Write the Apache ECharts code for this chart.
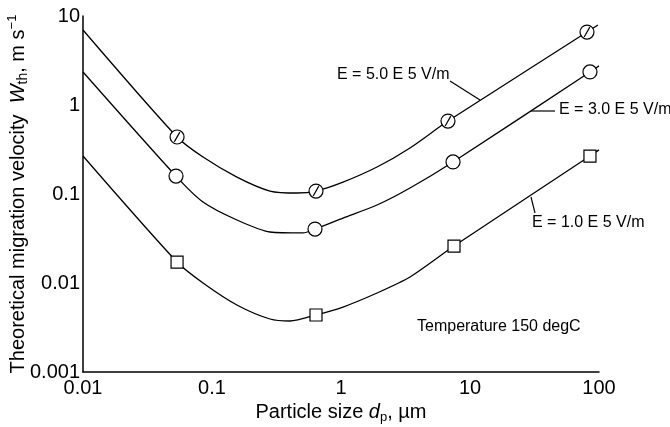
<!DOCTYPE html>
<html>
<head>
<meta charset="utf-8">
<script src="https://cdn.jsdelivr.net/npm/echarts@6/dist/echarts.min.js"></script>
<style>
  html, body { margin: 0; padding: 0; background: #fff; }
  #chart { width: 670px; height: 427px; }
</style>
</head>
<body>
<div id="chart"></div>
<script>
// tick labels
var xTickLabels = ['0.01', '0.1', '1', '10', '100'];
var yTickLabels = ['0.001', '0.01', '0.1', '1', '10'];

// E = 5.0 E 5 V/m
var hiX = [0.01, 0.0536, 0.0852, 0.156, 0.2815, 0.456, 0.64, 1.036, 1.902, 3.426, 6.75, 80.7, 98.2];
var hiY = [6.96, 0.437, 0.260, 0.155, 0.108, 0.1026, 0.108, 0.136, 0.201, 0.329, 0.66, 6.6, 7.92];
var hiMarkX = [0.0536, 0.64, 6.75, 80.7];
var hiMarkY = [0.437, 0.108, 0.66, 6.6];

// E = 3.0 E 5 V/m
var midX = [0.01, 0.0526, 0.0852, 0.156, 0.2815, 0.5075, 0.6287, 1.036, 1.902, 3.426, 7.385, 85.1, 100];
var midY = [2.35, 0.159, 0.0813, 0.051, 0.0374, 0.0365, 0.0404, 0.0537, 0.0752, 0.1168, 0.229, 2.35, 2.75];
var midMarkX = [0.0526, 0.6287, 7.385, 85.1];
var midMarkY = [0.159, 0.0404, 0.229, 2.35];

// E = 1.0 E 5 V/m
var loX = [0.01, 0.0536, 0.0852, 0.156, 0.2815, 0.4025, 0.64, 1.036, 1.902, 3.426, 7.516, 85.1, 100];
var loY = [0.267, 0.0172, 0.0100, 0.00566, 0.00394, 0.00374, 0.00437, 0.00537, 0.00772, 0.01168, 0.026, 0.267, 0.313];
var loMarkX = [0.0536, 0.64, 7.516, 85.1];
var loMarkY = [0.0172, 0.00437, 0.026, 0.267];

function pairs(xs, ys) {
    return xs.map(function (x, i) { return [x, ys[i]]; });
}

var font = 'Liberation Sans, Arial, Helvetica, sans-serif';
var slashCircle = 'path://M0,10A10,10,0,1,1,20,10A10,10,0,1,1,0,10ZM6,17L14,3';

function curve(xs, ys) {
    return {
        type: 'line',
        data: pairs(xs, ys),
        smooth: 0.25,
        symbol: 'none',
        lineStyle: { color: '#000', width: 1.3 },
        z: 2
    };
}

function marks(xs, ys, symbol, size) {
    return {
        type: 'scatter',
        data: pairs(xs, ys),
        symbol: symbol,
        symbolSize: size,
        itemStyle: { color: '#fff', borderColor: '#000', borderWidth: 1.2, opacity: 1 },
        z: 5
    };
}

var myChart = echarts.init(document.getElementById('chart'));
var option = {
    backgroundColor: '#fff',
    animation: false,
    textStyle: { fontFamily: font, color: '#000' },
    grid: { left: 83, right: 71, top: 16, bottom: 55, outerBoundsMode: 'none', containLabel: false },
    xAxis: {
        type: 'log',
        logBase: 10,
        min: 0.01,
        max: 100,
        name: 'Particle size {i|d}{sub|p}, \u00b5m',
        nameLocation: 'middle',
        nameGap: 28,
        nameMoveOverlap: false,
        nameTextStyle: {
            color: '#000', fontSize: 20, fontFamily: font, lineHeight: 24,
            rich: {
                i: { fontSize: 20, fontStyle: 'italic', color: '#000', fontFamily: font },
                sub: { fontSize: 13, verticalAlign: 'bottom', lineHeight: 14, color: '#000', fontFamily: font }
            }
        },
        axisLine: { lineStyle: { color: '#000', width: 1.5 } },
        axisTick: { show: false },
        splitLine: { show: false },
        minorTick: { show: false },
        axisLabel: {
            color: '#000', fontSize: 20, margin: 6, fontFamily: font,
            formatter: function (v) { return xTickLabels[Math.round(Math.log10(v)) + 2]; }
        }
    },
    yAxis: {
        type: 'log',
        logBase: 10,
        min: 0.001,
        max: 10,
        name: 'Theoretical migration velocity  {i|W}{sub|th}, m s{sup|\u22121}',
        nameLocation: 'middle',
        nameGap: 53,
        nameMoveOverlap: false,
        nameTextStyle: {
            color: '#000', fontSize: 20, fontFamily: font, lineHeight: 24,
            rich: {
                i: { fontSize: 20, fontStyle: 'italic', color: '#000', fontFamily: font },
                sub: { fontSize: 14, verticalAlign: 'bottom', lineHeight: 14, color: '#000', fontFamily: font },
                sup: { fontSize: 13, verticalAlign: 'top', lineHeight: 12, color: '#000', fontFamily: font }
            }
        },
        axisLine: { show: true, lineStyle: { color: '#000', width: 1.5 } },
        axisTick: { show: false },
        splitLine: { show: false },
        axisLabel: {
            color: '#000', fontSize: 20, margin: 3, fontFamily: font,
            formatter: function (v) { return yTickLabels[Math.round(Math.log10(v)) + 3]; }
        }
    },
    graphic: [
        { type: 'text', left: 337, top: 67, style: { text: 'E = 5.0 E 5 V/m', fontSize: 16, fontFamily: font, fill: '#000' } },
        { type: 'line', shape: { x1: 450, y1: 81, x2: 480, y2: 100 }, style: { stroke: '#000', lineWidth: 1.2 } },
        { type: 'text', left: 559, top: 102, style: { text: 'E = 3.0 E 5 V/m', fontSize: 16, fontFamily: font, fill: '#000' } },
        { type: 'line', shape: { x1: 531, y1: 111, x2: 555, y2: 111 }, style: { stroke: '#000', lineWidth: 1.2 } },
        { type: 'text', left: 532, top: 215, style: { text: 'E = 1.0 E 5 V/m', fontSize: 16, fontFamily: font, fill: '#000' } },
        { type: 'line', shape: { x1: 531, y1: 197, x2: 535, y2: 213 }, style: { stroke: '#000', lineWidth: 1.2 } },
        { type: 'text', left: 417, top: 319, style: { text: 'Temperature 150 degC', fontSize: 16, fontFamily: font, fill: '#000' } }
    ],
    series: [
        curve(hiX, hiY),
        curve(midX, midY),
        curve(loX, loY),
        marks(hiMarkX, hiMarkY, slashCircle, 14),
        marks(midMarkX, midMarkY, 'circle', 14),
        marks(loMarkX, loMarkY, 'rect', 12)
    ]
};

myChart.setOption(option);
</script>
</body>
</html>
